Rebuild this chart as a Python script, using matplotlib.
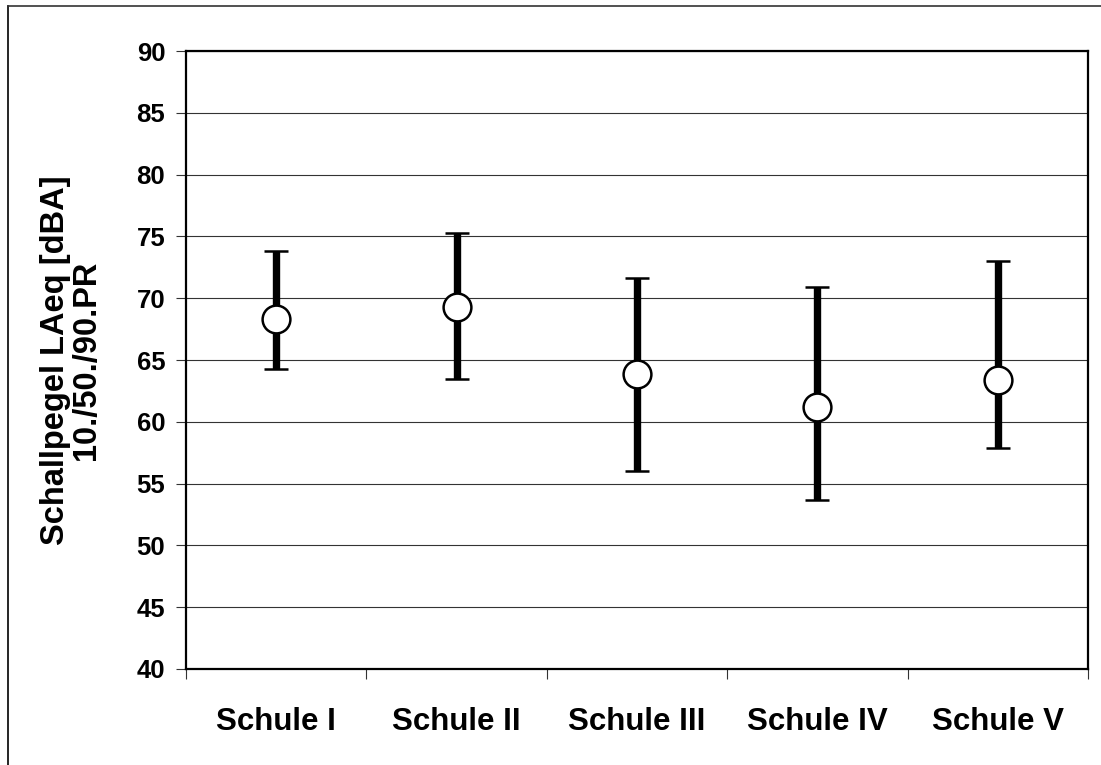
import matplotlib
matplotlib.use("Agg")
import matplotlib.pyplot as plt
from matplotlib.lines import Line2D
import numpy as np

plt.rcParams['font.family'] = ['Liberation Sans', 'DejaVu Sans']
plt.rcParams['font.weight'] = 'bold'

categories = ["Schule I", "Schule II", "Schule III", "Schule IV", "Schule V"]
p50 = [68.3, 69.3, 63.9, 61.2, 63.35]
p90 = [73.8, 75.3, 71.6, 70.9, 73.0]
p10 = [64.3, 63.5, 56.0, 53.7, 57.9]
yticks = [40, 45, 50, 55, 60, 65, 70, 75, 80, 85, 90]

W, H = 1101, 765
fig = plt.figure(figsize=(W / 100, H / 100), dpi=100)
ax = fig.add_axes([186 / W, 1 - 669 / H, (1088 - 186) / W, (669 - 51) / H])

x = np.arange(len(categories))
med = np.array(p50)
lo = med - np.array(p10)
hi = np.array(p90) - med

ax.errorbar(x, med, yerr=[lo, hi], fmt='o', color='black', ecolor='black',
            elinewidth=5.3, capsize=8.5, capthick=5.0,
            markersize=20, markerfacecolor='white', markeredgecolor='black',
            markeredgewidth=1.8, zorder=3)

ax.set_xlim(-0.5, len(categories) - 0.5)
ax.set_ylim(40, 90)
ax.set_yticks(yticks)
ax.set_yticklabels([str(v) for v in yticks], fontsize=18.5, fontweight='bold')
ax.yaxis.grid(True, color='#333333', linewidth=0.8)
ax.set_axisbelow(True)

ax.set_xticks(x)
ax.set_xticklabels(categories, fontsize=22.5, fontweight='bold')
ax.tick_params(axis='x', which='major', length=0, pad=27)
ax.set_xticks(np.arange(-0.5, len(categories), 1.0), minor=True)
ax.tick_params(axis='x', which='minor', length=7, width=0.8, direction='out', color='#333333')
ax.tick_params(axis='y', which='major', length=7, width=0.8, direction='out', pad=8, color='#333333')

for s in ax.spines.values():
    s.set_linewidth(1.6)
    s.set_color('black')

fig.text(71 / W, 1 - 360 / H, "Schallpegel LAeq [dBA]\n10./50./90.PR",
         rotation=90, ha='center', va='center', multialignment='center',
         fontsize=23.5, fontweight='bold', linespacing=1.0)

fig.add_artist(Line2D([8 / W, 8 / W], [0, 1 - 6 / H], transform=fig.transFigure,
                      color='black', linewidth=1.2))
fig.add_artist(Line2D([8 / W, 1], [1 - 6 / H, 1 - 6 / H], transform=fig.transFigure,
                      color='#333333', linewidth=1.2))

fig.savefig("out.png", dpi=100)
